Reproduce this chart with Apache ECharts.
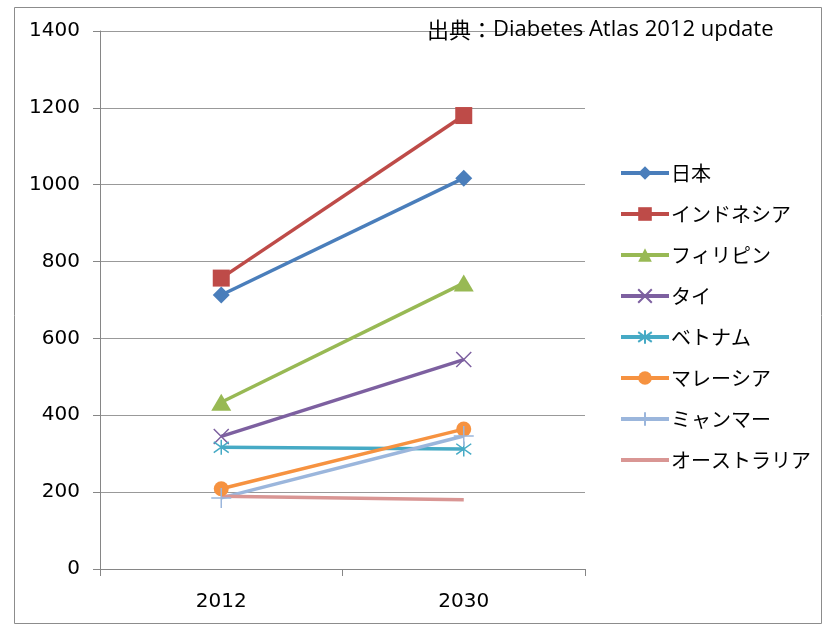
<!DOCTYPE html>
<html>
<head>
<meta charset="utf-8">
<script src="https://cdn.jsdelivr.net/npm/echarts@6/dist/echarts.min.js"></script>
<style>
  html, body { margin: 0; padding: 0; background: #fff; }
  #chart { width: 825px; height: 626px; }
</style>
</head>
<body>
<div id="chart"></div>
<script>
// Years on the category axis
const years = ['2012', '2030'];

// Country names (legend order)
const countries = ['日本', 'インドネシア', 'フィリピン', 'タイ', 'ベトナム', 'マレーシア', 'ミャンマー', 'オーストラリア'];

// Values per country, [2012, 2030]
const japan       = [713, 1017];
const indonesia   = [757, 1180];
const philippines = [434, 744];
const thailand    = [345, 545];
const vietnam     = [317, 312];
const malaysia    = [209, 364];
const myanmar     = [185, 346];
const australia   = [189, 180];

// Y-axis ticks
const yTicks = [0, 200, 400, 600, 800, 1000, 1200, 1400];

const seriesValues = [japan, indonesia, philippines, thailand, vietnam, malaysia, myanmar, australia];
const colors = ['#4A7EBB', '#BE4B48', '#98B954', '#7D60A0', '#46AAC5', '#F69240', '#9BB6DC', '#D99694'];

// Marker shapes: filled built-ins plus stroked paths for x, asterisk and plus
const markers = [
  { symbol: 'diamond', size: 17, stroke: false },
  { symbol: 'rect', size: 17, stroke: false },
  { symbol: 'triangle', size: [20, 17], stroke: false },
  { symbol: 'path://M0,0L10,10M10,0L0,10', size: 15, stroke: true },
  { symbol: 'path://M0,0L10,10M10,0L0,10M5,-2L5,12', size: 15, stroke: true },
  { symbol: 'circle', size: 15, stroke: false },
  { symbol: 'path://M5,0L5,10M0,5L10,5', size: 20, stroke: true },
  { symbol: 'none', size: 0, stroke: false }
];

const chart = echarts.init(document.getElementById('chart'), null, { renderer: 'canvas' });

const series = countries.map((name, i) => {
  const m = markers[i];
  return {
    name: name,
    type: 'line',
    data: seriesValues[i],
    symbol: m.symbol,
    symbolSize: m.size,
    showAllSymbol: true,
    lineStyle: { color: colors[i], width: 3.5 },
    itemStyle: m.stroke
      ? { color: 'rgba(0,0,0,0)', borderColor: colors[i], borderWidth: 1.5 }
      : { color: colors[i], borderWidth: 0 },
    emphasis: { disabled: true },
    animation: false
  };
});

// Legend entries; the last country has a plain line with no marker
const legendData = countries.map((name, i) =>
  markers[i].symbol === 'none' ? { name: name, itemStyle: { opacity: 0 } } : { name: name }
);

chart.setOption({
  animation: false,
  backgroundColor: '#fff',
  textStyle: { fontFamily: 'DejaVu Sans' },
  graphic: [
    {
      type: 'rect',
      shape: { x: 14.5, y: 7.5, width: 807, height: 616 },
      style: { fill: 'none', stroke: '#8c8c8c', lineWidth: 1 },
      silent: true,
      z: -1
    },
    {
      type: 'text',
      left: 427,
      top: 19,
      style: {
        text: '{jp|出典：}{en|Diabetes Atlas 2012 update}',
        rich: {
          jp: { fontFamily: 'Noto Sans CJK JP', fontSize: 22, fill: '#000', lineHeight: 26 },
          en: { fontFamily: 'Open Sans', fontSize: 22, fill: '#000', lineHeight: 26 }
        }
      },
      z: 10
    }
  ],
  grid: { left: 100, right: 240, top: 31, bottom: 57, containLabel: false },
  legend: {
    orient: 'vertical',
    left: 614,
    top: 158,
    itemWidth: 48,
    itemHeight: 17,
    itemGap: 21,
    data: legendData,
    lineStyle: { width: 4 },
    textStyle: { fontFamily: 'Noto Sans CJK JP', fontSize: 20, color: '#000', padding: [0, 0, 0, -3] },
    selectedMode: false
  },
  xAxis: {
    type: 'category',
    data: years,
    boundaryGap: true,
    axisLine: { lineStyle: { color: '#868686', width: 1 } },
    axisTick: { show: true, length: 7, lineStyle: { color: '#868686' } },
    axisLabel: { fontFamily: 'DejaVu Sans', fontSize: 20, color: '#000', margin: 23 },
    splitLine: { show: false }
  },
  yAxis: {
    type: 'value',
    min: yTicks[0],
    max: yTicks[yTicks.length - 1],
    interval: 200,
    axisLine: { show: true, lineStyle: { color: '#868686', width: 1 } },
    axisTick: { show: true, length: 7, lineStyle: { color: '#868686' } },
    axisLabel: {
      fontFamily: 'DejaVu Sans', fontSize: 20, color: '#000', margin: 20,
      formatter: (v) => String(v)
    },
    splitLine: { show: true, lineStyle: { color: '#999', width: 1 } }
  },
  series: series
});
</script>
</body>
</html>
